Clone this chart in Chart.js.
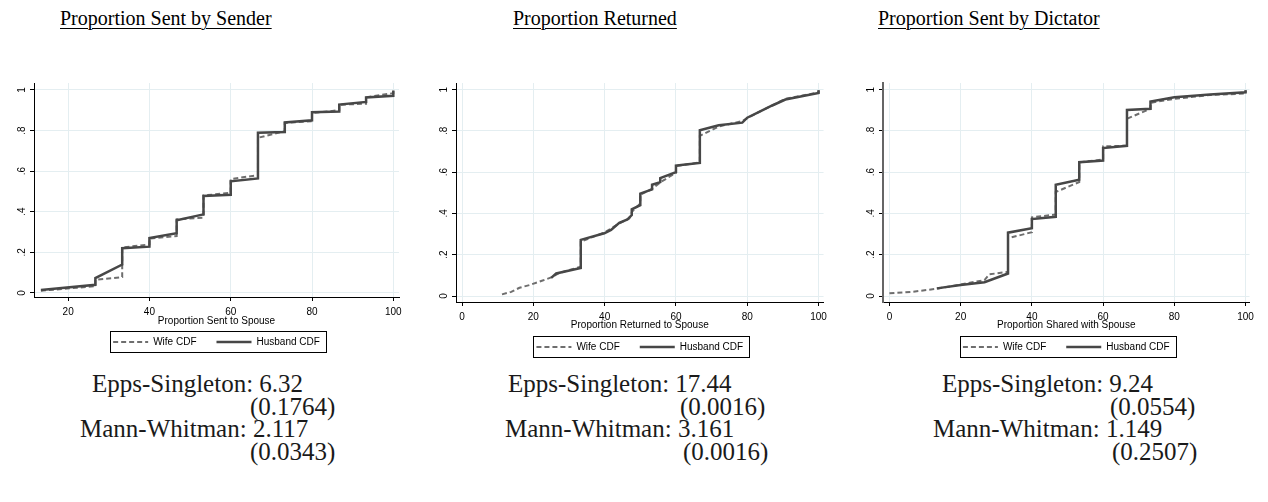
<!DOCTYPE html>
<html>
<head>
<meta charset="utf-8">
<script src="https://cdn.jsdelivr.net/npm/chart.js@4.4.0/dist/chart.umd.min.js"></script>
<style>
  body { margin: 0; background: #fff; width: 1268px; height: 502px; position: relative; overflow: hidden; font-family: "Liberation Serif", serif; }
  .title { position: absolute; top: 8px; font-size: 20px; line-height: 20px; text-decoration: underline; text-decoration-thickness: 1px; text-underline-offset: 3px; color: #000; white-space: nowrap; }
  .stat { position: absolute; font-size: 25px; line-height: 25px; color: #1a1a1a; white-space: nowrap; }
  .panel { position: absolute; top: 75px; width: 410px; }
</style>
</head>
<body>
<div class="title" style="left:60px">Proportion Sent by Sender</div>
<div class="title" style="left:513px">Proportion Returned</div>
<div class="title" style="left:878px">Proportion Sent by Dictator</div>

<div class="panel" style="left:0px;height:289px"><canvas id="sent"></canvas></div>
<div class="panel" style="left:422px;height:294px"><canvas id="returned"></canvas></div>
<div class="panel" style="left:849px;height:294px"><canvas id="dictator"></canvas></div>

<div id="stats"></div>

<script>
// ----------------------
// DATA
// ----------------------
const yTicks = [0, 0.2, 0.4, 0.6, 0.8, 1];
const yTickLabels = ["0", ".2", ".4", ".6", ".8", "1"];
const sentTicks = [20, 40, 60, 80, 100];
const fullTicks = [0, 20, 40, 60, 80, 100];
const seriesNames = ["Wife CDF", "Husband CDF"];

// Proportion sent by sender
const sentWifeX = [13.3, 26.7, 26.7, 33.3, 33.3, 40, 40, 46.7, 46.7, 53.3, 53.3, 60, 60, 66.7, 66.7, 73.3, 73.3, 80, 80, 86.7, 86.7, 93.3, 93.3, 100, 100];
const sentWifeY = [0.011, 0.033, 0.065, 0.078, 0.224, 0.239, 0.268, 0.28, 0.363, 0.371, 0.48, 0.493, 0.561, 0.58, 0.764, 0.797, 0.837, 0.846, 0.886, 0.9, 0.927, 0.932, 0.964, 0.984, 0.997];
const sentHusbandX = [13.3, 26.7, 26.7, 33.3, 33.3, 40, 40, 46.7, 46.7, 53.3, 53.3, 60, 60, 66.7, 66.7, 73.3, 73.3, 80, 80, 86.7, 86.7, 93.3, 93.3, 100, 100];
const sentHusbandY = [0.015, 0.04, 0.073, 0.14, 0.22, 0.228, 0.27, 0.294, 0.358, 0.387, 0.478, 0.483, 0.55, 0.564, 0.789, 0.793, 0.84, 0.85, 0.89, 0.894, 0.928, 0.941, 0.963, 0.971, 0.997];

// Proportion returned
const retWifeX = [11.2, 13.8, 16.1, 18.9, 22.6, 25, 27.3, 33.3, 33.3, 39.9, 44.1, 46.9, 47.8, 50, 50, 53.4, 55.7, 60, 60, 66.7, 66.7, 72, 78.6, 83.2, 90.7, 100, 100];
const retWifeY = [0.008, 0.02, 0.04, 0.053, 0.075, 0.09, 0.112, 0.142, 0.264, 0.307, 0.352, 0.376, 0.411, 0.448, 0.491, 0.52, 0.552, 0.597, 0.629, 0.648, 0.776, 0.821, 0.848, 0.891, 0.955, 0.987, 0.997];
const retHusbandX = [25, 26.4, 33.3, 33.3, 39.9, 41.8, 44.1, 46.4, 47.6, 47.6, 50, 50, 53.3, 53.3, 55.6, 55.6, 60, 60, 62.7, 66.7, 66.7, 72, 78.6, 80, 83.2, 87, 90.7, 95.3, 100, 100];
const retHusbandY = [0.088, 0.109, 0.136, 0.272, 0.304, 0.32, 0.355, 0.371, 0.392, 0.42, 0.44, 0.496, 0.517, 0.539, 0.552, 0.571, 0.6, 0.632, 0.637, 0.645, 0.803, 0.827, 0.84, 0.864, 0.891, 0.923, 0.952, 0.968, 0.984, 0.997];

// Proportion sent by dictator
const dicWifeX = [0, 6.7, 13.3, 20, 26.7, 28, 33.3, 33.3, 40, 40, 46.7, 46.7, 53.3, 53.3, 60, 60, 66.7, 66.7, 73.3, 73.3, 80, 90, 100, 100];
const dicWifeY = [0.013, 0.021, 0.035, 0.056, 0.077, 0.105, 0.117, 0.28, 0.309, 0.381, 0.395, 0.504, 0.552, 0.648, 0.661, 0.725, 0.728, 0.859, 0.907, 0.936, 0.955, 0.974, 0.981, 0.997];
const dicHusbandX = [13.3, 20, 26.7, 33.3, 33.3, 40, 40, 46.7, 46.7, 53.3, 53.3, 60, 60, 66.7, 66.7, 73.3, 73.3, 80, 90, 100, 100];
const dicHusbandY = [0.037, 0.053, 0.067, 0.109, 0.307, 0.328, 0.373, 0.384, 0.539, 0.563, 0.648, 0.656, 0.717, 0.728, 0.901, 0.907, 0.942, 0.963, 0.976, 0.987, 0.997];

// Test statistics under each panel
const sentStats = ["Epps-Singleton: 6.32", "(0.1764)", "Mann-Whitman: 2.117", "(0.0343)"];
const retStats = ["Epps-Singleton: 17.44", "(0.0016)", "Mann-Whitman: 3.161", "(0.0016)"];
const dicStats = ["Epps-Singleton: 9.24", "(0.0554)", "Mann-Whitman: 1.149", "(0.2507)"];

// ----------------------
// STAT TEXT
// ----------------------
const statTops = [371, 394, 416, 439];
function placeStats(lines, lefts) {
  const holder = document.getElementById("stats");
  lines.forEach((txt, i) => {
    const d = document.createElement("div");
    d.className = "stat";
    d.style.left = lefts[i] + "px";
    d.style.top = statTops[i] + "px";
    d.textContent = txt;
    holder.appendChild(d);
  });
}
placeStats(sentStats, [92, 250, 80, 250]);
placeStats(retStats, [508, 680, 505, 683]);
placeStats(dicStats, [942, 1110, 933, 1112]);

// ----------------------
// PLUGINS
// ----------------------
// vertical y labels centred on the tick, Stata style
const yLabelPlugin = {
  id: "yLabels",
  afterDraw(chart) {
    const s = chart.scales.y;
    const ctx = chart.ctx;
    ctx.save();
    ctx.font = "10px 'Liberation Sans', Arial, sans-serif";
    ctx.fillStyle = "#000";
    ctx.textAlign = "center";
    ctx.textBaseline = "middle";
    yTicks.forEach((v, i) => {
      ctx.save();
      ctx.translate(s.right - 12, s.getPixelForValue(v));
      ctx.rotate(-Math.PI / 2);
      ctx.fillText(yTickLabels[i], 0, 0);
      ctx.restore();
    });
    ctx.restore();
  },
};

// frame around the legend
const legendBoxPlugin = {
  id: "legendBox",
  afterDraw(chart) {
    const boxes = chart.legend.legendHitBoxes;
    if (!boxes || !boxes.length) return;
    const left = Math.min(...boxes.map((b) => b.left));
    const right = Math.max(...boxes.map((b) => b.left + b.width));
    const top = Math.min(...boxes.map((b) => b.top));
    const bottom = Math.max(...boxes.map((b) => b.top + b.height));
    const ctx = chart.ctx;
    ctx.save();
    ctx.strokeStyle = "#000";
    ctx.lineWidth = 1;
    ctx.strokeRect(Math.round(left - 3) + 0.5, Math.round(top - 6) + 0.5, Math.round(right - left + 9), Math.round(bottom - top + 11));
    ctx.restore();
  },
};

// ----------------------
// CHART RENDERING
// ----------------------
const tickFont = { family: "'Liberation Sans', Arial, sans-serif", size: 10 };

function toPoints(xs, ys) {
  return xs.map((x, i) => ({ x: x, y: ys[i] }));
}

// legend samples as plain line segments that keep the dash pattern
function lineLegendItems(chart) {
  return chart.data.datasets.map((ds, i) => ({
    text: ds.label,
    datasetIndex: i,
    strokeStyle: ds.borderColor,
    fillStyle: ds.borderColor,
    lineWidth: ds.borderWidth,
    lineDash: ds.borderDash || [],
    lineCap: "butt",
    pointStyle: "line",
    fontColor: "#000",
    hidden: false,
  }));
}

function renderPanel(id, p) {
  const ctx = document.getElementById(id).getContext("2d");
  new Chart(ctx, {
    type: "line",
    data: {
      datasets: [
        {
          label: seriesNames[0],
          data: toPoints(p.wifeX, p.wifeY),
          borderColor: "#6e6e6e",
          borderWidth: 2,
          borderDash: [5, 3],
          pointRadius: 0,
          tension: 0,
          order: 1,
        },
        {
          label: seriesNames[1],
          data: toPoints(p.husbandX, p.husbandY),
          borderColor: "#474747",
          borderWidth: 2.5,
          pointRadius: 0,
          tension: 0,
          order: 0,
        },
      ],
    },
    options: {
      responsive: true,
      maintainAspectRatio: false,
      animation: false,
      events: [],
      layout: { padding: { left: 0, right: p.padRight, top: 8, bottom: 7 } },
      plugins: {
        tooltip: { enabled: false },
        legend: {
          position: "bottom",
          fullSize: false,
          labels: {
            usePointStyle: true,
            pointStyleWidth: 35,
            padding: 20,
            color: "#000",
            font: { family: "'Liberation Sans', Arial, sans-serif", size: 10 },
            generateLabels: lineLegendItems,
          },
        },
      },
      scales: {
        x: {
          type: "linear",
          min: p.xMin,
          max: p.xMax,
          afterBuildTicks: (s) => { s.ticks = p.xTicks.map((v) => ({ value: v })); },
          afterFit: (s) => { s.height = 20; },
          ticks: { font: tickFont, color: "#000", padding: 5, maxRotation: 0 },
          grid: { color: "#e4eef1", tickColor: "#000", tickLength: 4 },
          border: { color: "#000", width: 1 },
          title: { display: true, text: p.xTitle, font: tickFont, color: "#000", padding: { top: 0, bottom: p.titleShift } },
        },
        y: {
          min: p.yMin,
          max: p.yMax,
          afterBuildTicks: (s) => { s.ticks = yTicks.map((v) => ({ value: v })); },
          afterFit: (s) => { s.width = 34; },
          ticks: { display: false },
          grid: { color: "#e4eef1", tickColor: "#000", tickLength: 4 },
          border: { color: p.yBorder, width: p.yBorderWidth },
        },
      },
    },
    plugins: [yLabelPlugin, legendBoxPlugin],
  });
}

renderPanel("sent", {
  wifeX: sentWifeX, wifeY: sentWifeY, husbandX: sentHusbandX, husbandY: sentHusbandY,
  xMin: 11.6, xMax: 101.4, xTicks: sentTicks, yMin: -0.02, yMax: 1.034,
  xTitle: "Proportion Sent to Spouse", padRight: 11, titleShift: -10, yBorder: "#000", yBorderWidth: 1,
});
renderPanel("returned", {
  wifeX: retWifeX, wifeY: retWifeY, husbandX: retHusbandX, husbandY: retHusbandY,
  xMin: -1.7, xMax: 101.4, xTicks: fullTicks, yMin: -0.029, yMax: 1.032,
  xTitle: "Proportion Returned to Spouse", padRight: 7, titleShift: -9, yBorder: "#000", yBorderWidth: 1,
});
renderPanel("dictator", {
  wifeX: dicWifeX, wifeY: dicWifeY, husbandX: dicHusbandX, husbandY: dicHusbandY,
  xMin: -1.8, xMax: 101.1, xTicks: fullTicks, yMin: -0.029, yMax: 1.032,
  xTitle: "Proportion Shared with Spouse", padRight: 7, titleShift: -9, yBorder: "#666", yBorderWidth: 2,
});
</script>
</body>
</html>
